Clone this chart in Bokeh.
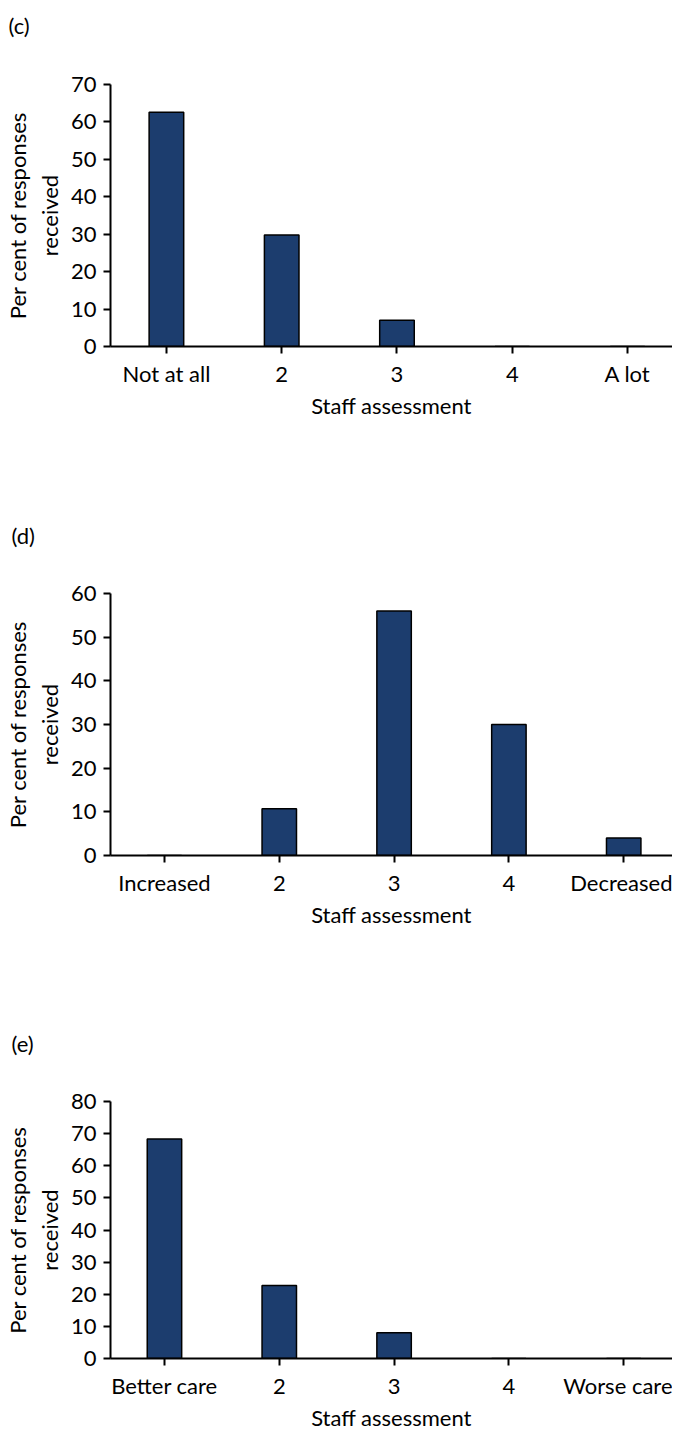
from bokeh.plotting import figure
from bokeh.layouts import column
from bokeh.models import Range1d, FixedTicker, SingleIntervalTicker
from bokeh.embed import file_html
from bokeh.resources import INLINE

# ---- data ----
scale_points = [1, 2, 3, 4, 5]

labels_c = ["Not at all", "2", "3", "4", "A lot"]
values_c = [62.6, 29.8, 7.0, 0, 0]

labels_d = ["Increased", "2", "3", "4", "Decreased"]
values_d = [0, 10.7, 56.0, 30.0, 4.0]

labels_e = ["Better care", "2", "3", "4", "Worse care"]
values_e = [68.3, 22.7, 8.0, 0, 0]

panel_letters = ["(c)", "(d)", "(e)"]
y_max = [70, 60, 80]
x_title = "Staff assessment"
y_title = "Per cent of responses\nreceived"

# ---- style ----
FONT = "Lato"
FS = "22px"
BAR_FILL = "#1c3d6e"
WIDTH = 672
BLEFT = 103


def letter_fig(letter, height, offset, standoff):
    """Strip above a chart that carries the panel letter as its title."""
    p = figure(width=WIDTH, height=height, output_backend="svg",
               toolbar_location=None, x_axis_type=None, y_axis_type=None,
               min_border_left=BLEFT, min_border_right=0,
               min_border_top=0, min_border_bottom=0, title=letter)
    p.outline_line_color = None
    p.background_fill_color = None
    p.border_fill_color = None
    t = p.title
    t.align = "left"
    t.vertical_align = "top"
    t.offset = offset
    t.standoff = standoff
    t.text_font = FONT
    t.text_font_size = FS
    t.text_font_style = "normal"
    t.text_color = "black"
    return p


def make_panel(cats, vals, ymax, height, b_top, b_bottom, x_start, x_end):
    p = figure(width=WIDTH, height=height, output_backend="svg",
               toolbar_location=None,
               x_range=Range1d(x_start, x_end), y_range=Range1d(0, ymax),
               min_border_top=b_top, min_border_bottom=b_bottom,
               min_border_left=BLEFT, min_border_right=0)
    p.vbar(x=scale_points, top=vals, width=0.3, fill_color=BAR_FILL,
           line_color="black", line_width=1.5)
    p.xgrid.visible = False
    p.ygrid.visible = False
    p.outline_line_color = None
    p.background_fill_color = None
    p.border_fill_color = None

    xa = p.xaxis[0]
    xa.ticker = FixedTicker(ticks=scale_points)
    xa.major_label_overrides = {k: c for k, c in zip(scale_points, cats)}
    xa.axis_label = x_title
    ya = p.yaxis[0]
    ya.ticker = SingleIntervalTicker(interval=10, num_minor_ticks=0)
    ya.axis_label = y_title

    for ax in (xa, ya):
        ax.axis_line_width = 2
        ax.axis_line_color = "black"
        ax.major_tick_line_width = 2
        ax.major_tick_line_color = "black"
        ax.major_tick_in = 0
        ax.major_tick_out = 7
        ax.minor_tick_line_color = None
        ax.major_label_text_font = FONT
        ax.major_label_text_font_size = FS
        ax.major_label_text_color = "black"
        ax.axis_label_text_font = FONT
        ax.axis_label_text_font_size = FS
        ax.axis_label_text_font_style = "normal"
        ax.axis_label_text_color = "black"
    xa.major_label_standoff = 6
    xa.axis_label_standoff = 2
    ya.major_label_standoff = 7
    ya.axis_label_standoff = 5
    return p


lc = letter_fig(panel_letters[0], 56, -102, 22)
pc = make_panel(labels_c, values_c, y_max[0], 460, 28, 170, 0.515, 5.39)

ld = letter_fig(panel_letters[1], 40, -99, 10)
pd_ = make_panel(labels_d, values_d, y_max[1], 468, 37, 169, 0.53, 5.425)

le = letter_fig(panel_letters[2], 40, -99, 10)
pe = make_panel(labels_e, values_e, y_max[2], 369, 37, 74, 0.53, 5.425)

layout = column(lc, pc, ld, pd_, le, pe, spacing=0)
open("out.html", "w").write(file_html(layout, INLINE))
